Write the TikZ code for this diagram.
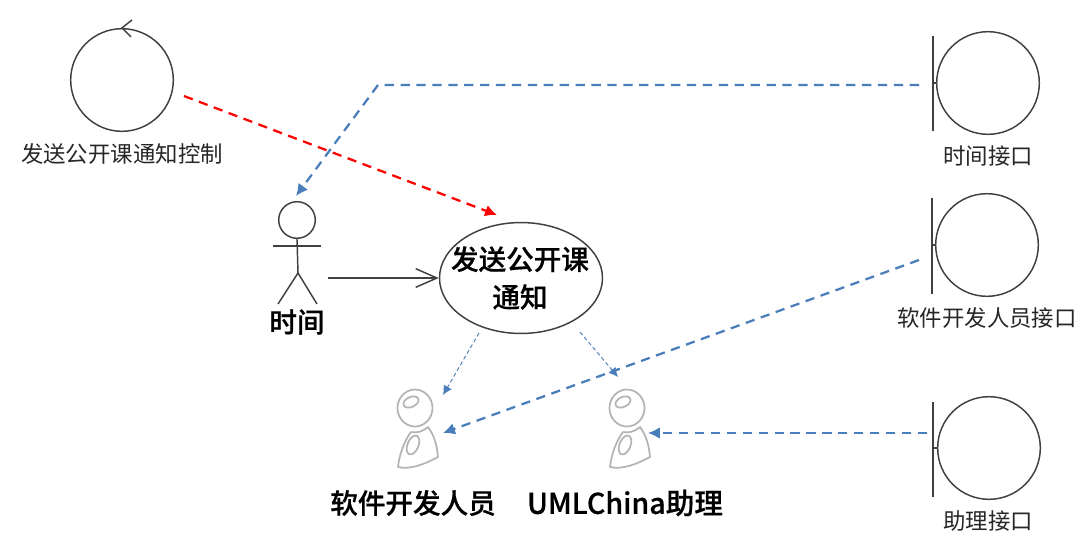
\documentclass[tikz,border=0pt]{standalone}
\usepackage{xcolor}
\usepackage{fontspec}
\setmainfont[BoldFont={Noto Sans CJK SC Medium},BoldFeatures={FakeBold=0.5}]{Noto Sans CJK SC}
\usepackage{tikz}
\usetikzlibrary{shapes,arrows.meta,positioning,calc}
\definecolor{flowblue}{HTML}{4A7EBB}
\definecolor{flowred}{HTML}{FF0000}
\definecolor{dark}{HTML}{404040}
\definecolor{robotgray}{HTML}{B4B4B4}
\tikzset{
    umlcircle/.style={circle, draw=dark, line width=1.1pt, minimum size=2.72cm, inner sep=0pt},
    umlline/.style={dark, line width=1.1pt},
    smalltext/.style={font=\fontsize{16.9pt}{20pt}\selectfont, text=black!85, inner sep=0pt},
    boldtext/.style={font=\fontsize{20.8pt}{28.5pt}\selectfont\bfseries, text=black, inner sep=0pt},
    blueflow/.style={-{Latex[length=9pt,width=9pt]}, flowblue, line width=1.7pt, dash pattern=on 7pt off 5pt},
    thinflow/.style={-{Latex[length=7pt,width=7pt]}, flowblue, line width=0.7pt, dash pattern=on 3pt off 2pt},
    redflow/.style={-{Latex[length=9pt,width=9pt]}, flowred, line width=1.7pt, dash pattern=on 7pt off 5pt},
    robotline/.style={robotgray, line width=1.3pt, line join=round},
}
\begin{document}
\begin{tikzpicture}[x=0.0265cm, y=-0.0265cm]
    \useasboundingbox (0,0) rectangle (1080,542);
    \fill[white] (0,0) rectangle (1080,542);

    % control
    \node[umlcircle] (control) at (122,80) {};
    \coordinate (controltop) at (control.north);
    \draw[umlline] ($(controltop)+(10,-8)$) -- (controltop) -- ($(controltop)+(9,9)$);
    \node[smalltext] (controllabel) at (122,154) {发送公开课通知控制};

    % boundaries
    \node[umlcircle] (timeif) at (988,83) {};
    \node[umlcircle] (devif) at (987,245) {};
    \node[umlcircle] (helperif) at (989,448) {};
    \coordinate (timebar) at (933,83);
    \coordinate (devbar) at (932,245);
    \coordinate (helperbar) at (933,448);
    \draw[umlline] (933,36) -- (933,131);
    \draw[umlline] (932,198) -- (932,294);
    \draw[umlline] (933,402) -- (933,497);
    \draw[umlline] (timebar) -- (timeif.west);
    \draw[umlline] (devbar) -- (devif.west);
    \draw[umlline] (helperbar) -- (helperif.west);
    \node[smalltext] (timelabel) at (988,156) {时间接口};
    \node[smalltext] (devlabel) at (987,318) {软件开发人员接口};
    \node[smalltext] (helperlabel) at (988,521) {助理接口};

    % actor
    \node[circle, draw=dark, line width=1.1pt, minimum size=0.97cm, inner sep=0pt] (head) at (297,220) {};
    \coordinate (hip) at (298,273);
    \draw[umlline] (head.south) -- (hip);
    \draw[umlline] (273,246) -- (321,246);
    \draw[umlline] (278,304) -- (hip) -- (317,304);
    \node[boldtext] (actorlabel) at (297,322) {时间};

    % use case
    \node[ellipse, draw=dark, line width=1.1pt, minimum width=4.32cm, minimum height=2.94cm, inner sep=0pt] (usecase) at (521,278) {};
    \node[boldtext, align=center] (usecaselabel) at (520,278) {发送公开课\\通知};

    % robots
    \foreach \cx in {415,627} {
        \begin{scope}[shift={(\cx,408)}]
            \draw[robotline] (0,0) ellipse[x radius=17.5, y radius=18.5];
            \draw[robotline, rotate around={25:(-4,-6)}] (-4,-6) ellipse[x radius=8, y radius=5];
            \draw[robotline] (-4,24) .. controls (-11,33) and (-16,48) .. (-17,59) .. controls (-5,62) and (10,56) .. (23,49) .. controls (22,37) and (19,27) .. (13,19) .. controls (7,24) and (2,25) .. (-4,24);
            \draw[robotline, rotate around={68:(-2,37)}] (-2,37) ellipse[x radius=10, y radius=5.5];
        \end{scope}
    }
    \coordinate (devrobot) at (443,433);
    \coordinate (helperrobot) at (648,433);
    \node[boldtext] (devname) at (413,503) {软件开发人员};
    \node[boldtext, font=\fontsize{21.6pt}{28.5pt}\selectfont\bfseries] (helpername) at (625,503) {UMLChina助理};

    % connectors
    \coordinate (actorstart) at (328,278);
    \draw[umlline, -{Straight Barb[length=16pt,width=14pt]}] (actorstart) -- (usecase.west);
    \coordinate (redstart) at (184,96);
    \coordinate (redend) at (497,215);
    \draw[redflow] (redstart) -- (redend);
    \coordinate (timestart) at (919,85);
    \coordinate (bend) at (378,85);
    \coordinate (headtop) at (296,196);
    \draw[blueflow] (timestart) -- (bend) -- (headtop);
    \coordinate (devstart) at (919,260);
    \draw[blueflow] (devstart) -- (devrobot);
    \coordinate (helperstart) at (927,433);
    \draw[blueflow] (helperstart) -- (helperrobot);
    \coordinate (thinastart) at (479,333);
    \coordinate (thinaend) at (443,395);
    \draw[thinflow] (thinastart) -- (thinaend);
    \coordinate (thinbstart) at (580,332);
    \coordinate (thinbend) at (618,377);
    \draw[thinflow] (thinbstart) -- (thinbend);
\end{tikzpicture}
\end{document}
